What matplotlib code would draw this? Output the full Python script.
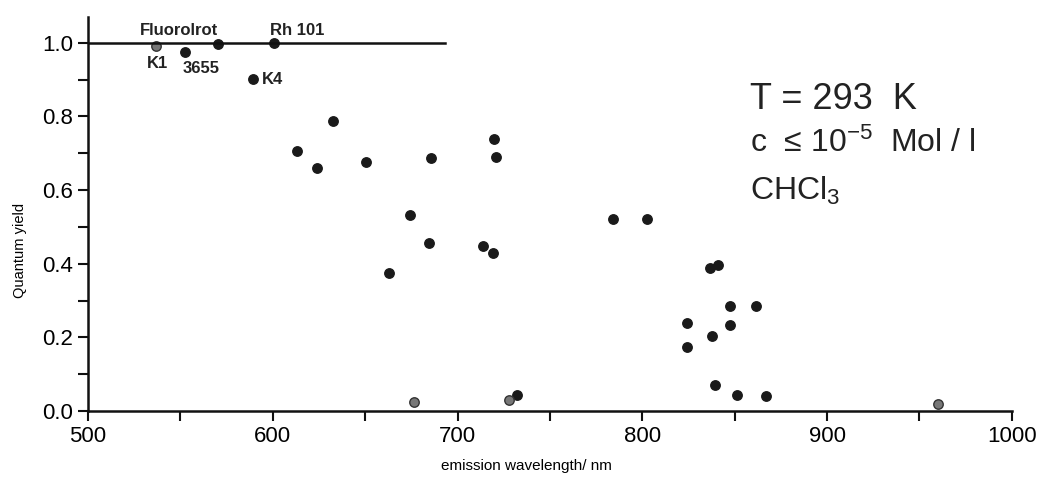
import numpy as np
import matplotlib
matplotlib.use('Agg')
import matplotlib.pyplot as plt

plt.rcParams['font.family'] = ['Liberation Sans', 'DejaVu Sans']
plt.rcParams['mathtext.default'] = 'regular'

# dyes with names (emission wavelength / nm, quantum yield)
named_dyes = ['K1', '3655', 'Fluorolrot', 'Rh 101', 'K4']
named_wl = [537, 552.5, 570.5, 600.5, 589.5]
named_qy = [0.99, 0.976, 0.997, 0.999, 0.902]

# other dyes, solid dots
wl = [613, 624, 632.5, 650.5, 662.8, 674.5, 684.6, 685.6, 713.6, 719.6, 720.6, 719.0,
      732.0, 784.4, 802.3, 824.4, 824.4, 836.9, 840.9, 837.5, 847.7, 847.7, 861.3,
      839.2, 851.1, 866.7]
qy = [0.705, 0.66, 0.787, 0.677, 0.375, 0.533, 0.457, 0.688, 0.449, 0.739, 0.690, 0.430,
      0.045, 0.522, 0.522, 0.24, 0.175, 0.389, 0.397, 0.205, 0.285, 0.235, 0.285,
      0.072, 0.045, 0.042]

# faint dots
wl_faint = [676.3, 727.9, 960]
qy_faint = [0.025, 0.03, 0.02]

fig = plt.figure(figsize=(10.42, 4.86), dpi=100)
ax = fig.add_axes([0.0845, 0.154, 0.8865, 0.811])

ax.plot(wl, qy, 'o', color='#1a1a1a', ms=6.8, mec='#1a1a1a', clip_on=False)
ax.plot(named_wl[1:], named_qy[1:], 'o', color='#1a1a1a', ms=6.8, clip_on=False)
ax.plot(named_wl[:1] + wl_faint, named_qy[:1] + qy_faint, 'o', color='#777777',
        mec='#333333', ms=6.8, mew=1.0, clip_on=False)

# reference line at quantum yield 1
ax.plot([500, 693], [1.0, 1.0], color='#111111', lw=1.8)

lab_kw = dict(fontsize=12, fontweight='bold', color='#222222')
ax.text(549, 1.012, 'Fluorolrot', ha='center', va='bottom', **lab_kw)
ax.text(613, 1.012, 'Rh 101', ha='center', va='bottom', **lab_kw)
ax.text(537.5, 0.965, 'K1', ha='center', va='top', **lab_kw)
ax.text(561, 0.951, '3655', ha='center', va='top', **lab_kw)
ax.text(594, 0.900, 'K4', ha='left', va='center', **lab_kw)

fig.text(0.72, 0.776, 'T = 293  K', fontsize=26, color='#222222')
fig.text(0.72, 0.687, r'c  ≤ 10$^{-5}$  Mol / l', fontsize=23, color='#222222')
fig.text(0.72, 0.588, r'CHCl$_3$', fontsize=23, color='#222222')

ax.set_xlim(500, 1000)
ax.set_ylim(0, 1.07)
ax.set_xticks(np.arange(500, 1001, 100))
ax.set_xticks(np.arange(550, 1000, 100), minor=True)
ax.set_yticks(np.arange(0, 1.01, 0.2))
ax.set_yticks(np.arange(0.1, 1.0, 0.2), minor=True)
ax.set_yticklabels(['0.0', '0.2', '0.4', '0.6', '0.8', '1.0'])

for s in ['top', 'right']:
    ax.spines[s].set_visible(False)
for s in ['left', 'bottom']:
    ax.spines[s].set_linewidth(1.8)
    ax.spines[s].set_color('#111111')

ax.tick_params(which='both', direction='out', length=7, width=1.5, color='#111111')
ax.tick_params(axis='both', labelsize=16, pad=4)

ax.set_xlabel('emission wavelength/ nm', fontsize=11)
ax.set_ylabel('Quantum yield', fontsize=10.5)
ax.xaxis.set_label_coords(0.475, -0.122)
ax.yaxis.set_label_coords(-0.066, 0.409)

plt.savefig('out.png', dpi=100)
